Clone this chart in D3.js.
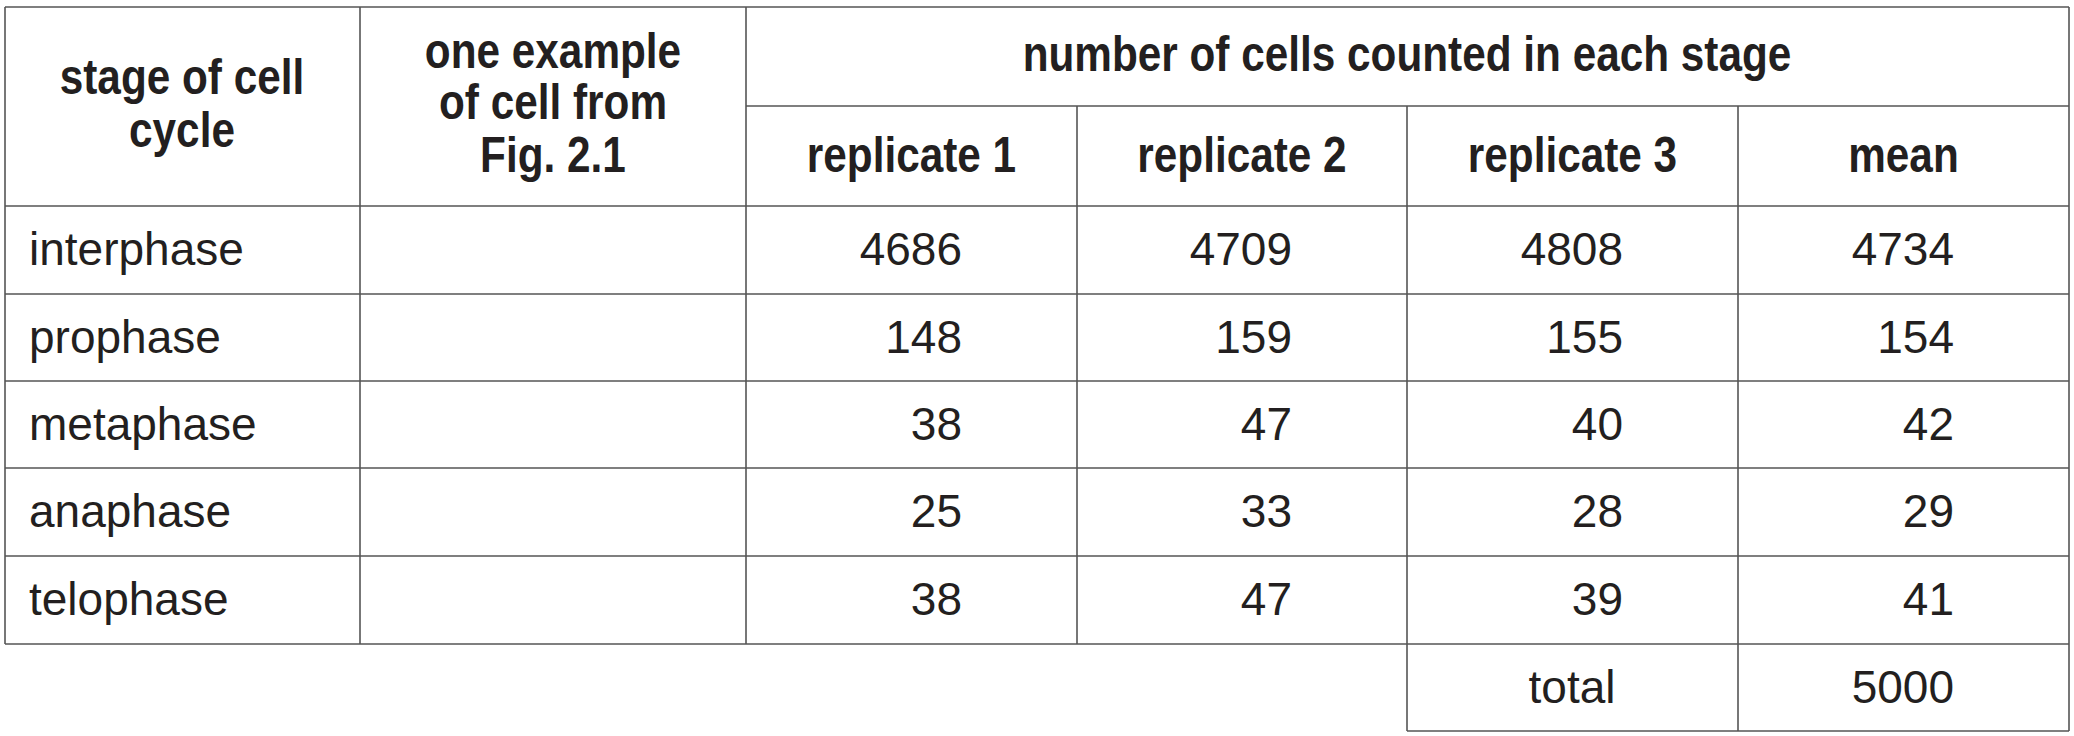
<!DOCTYPE html>
<html><head><meta charset="utf-8">
<script src="https://cdn.jsdelivr.net/npm/d3@7"></script>
<style>body{margin:0;background:#fff}</style></head>
<body><svg id="c" width="2074" height="736"></svg>
<script>
const stages = ["interphase","prophase","metaphase","anaphase","telophase"];
const replicate1 = [4686,148,38,25,38];
const replicate2 = [4709,159,47,33,47];
const replicate3 = [4808,155,40,28,39];
const means = [4734,154,42,29,41];
const subHeaders = ["replicate 1","replicate 2","replicate 3","mean"];
const total = 5000;

const svg = d3.select("#c");
const colX = [5,360,746,1077,1407,1738,2069];
const rowY = [7,106,206,294,381,468,556,644,731];
const ink = "#231f20", line = "#555";
const font = "'Liberation Sans', Arial, Helvetica, sans-serif";
const g = svg.append("g").attr("stroke",line).attr("stroke-width",1.6).attr("fill","none");
const L=(x1,y1,x2,y2)=>g.append("line").attr("x1",x1).attr("y1",y1).attr("x2",x2).attr("y2",y2);
L(colX[0],rowY[0],colX[6],rowY[0]);
L(colX[2],rowY[1],colX[6],rowY[1]);
for(let i=2;i<=7;i++) L(colX[0],rowY[i],colX[6],rowY[i]);
L(colX[4],rowY[8],colX[6],rowY[8]);
[0,1,2].forEach(i=>L(colX[i],rowY[0],colX[i],rowY[7]));
[3].forEach(i=>L(colX[i],rowY[1],colX[i],rowY[7]));
[4,5].forEach(i=>L(colX[i],rowY[1],colX[i],rowY[8]));
L(colX[6],rowY[0],colX[6],rowY[8]);

function T(x,y,s,opts={}){
  const t = svg.append("text").attr("x",x).attr("y",y).text(s)
    .attr("font-family",font).attr("font-size",opts.size||46)
    .attr("font-weight",opts.bold?"bold":"normal")
    .attr("text-anchor",opts.anchor||"start").attr("dominant-baseline","middle")
    .attr("fill",ink);
  if(opts.bold) t.attr("transform",`translate(${x},${y}) scale(0.92,1.1) translate(${-x},${-y})`);
  return t;
}
const hb={bold:true,anchor:"middle",size:46};
T(182,81,"stage of cell",hb); T(182,134,"cycle",hb);
T(553,55,"one example",hb); T(553,106,"of cell from",hb); T(553,159,"Fig. 2.1",hb);
T(1407,58,"number of cells counted in each stage",hb);
subHeaders.forEach((h,i)=>T((colX[i+2]+colX[i+3])/2,159,h,hb));
const cols=[replicate1,replicate2,replicate3,means];
const rightX=[962,1292,1623,1954];
stages.forEach((s,r)=>{
  const cy=(rowY[r+2]+rowY[r+3])/2+3;
  T(29,cy,s);
  cols.forEach((c,j)=>T(rightX[j],cy,c[r],{anchor:"end"}));
});
const ty=(rowY[7]+rowY[8])/2+3;
T(1572,ty,"total",{anchor:"middle"});
T(rightX[3],ty,total,{anchor:"end"});
</script></body></html>
